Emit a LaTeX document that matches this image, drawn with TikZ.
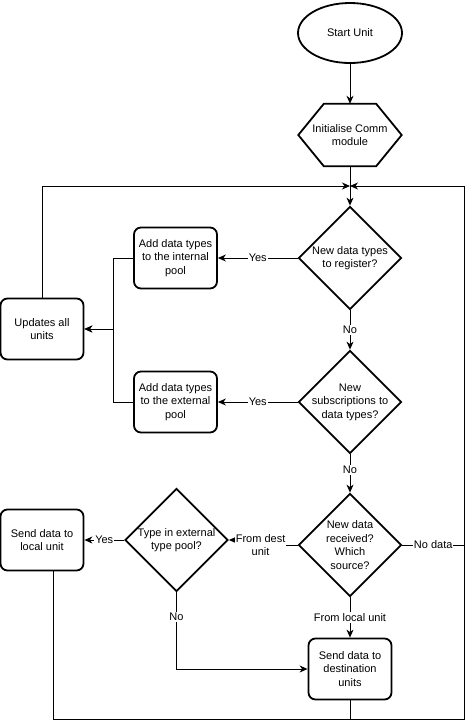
\documentclass[tikz,border=0pt]{standalone}
\usepackage{fontspec}
\setmainfont{Liberation Sans}
\usetikzlibrary{shapes.geometric,arrows.meta,calc}
\begin{document}
\begin{tikzpicture}[x=1pt,y=-1pt,
  font=\fontsize{11}{13.5}\selectfont,
  shp/.style={draw, line width=1.8pt},
  box/.style={shp, rounded corners=7pt, minimum width=83pt, minimum height=61pt, align=center, inner sep=1pt},
  diam/.style={shp, diamond, minimum width=103pt, minimum height=103pt, inner sep=0pt},
  txt/.style={align=center, inner sep=0pt},
  ln/.style={line width=1pt},
  arr/.style={ln, -{Stealth[length=8pt,width=7pt,inset=2.5pt]}},
  lbl/.style={fill=white, inner sep=1pt, align=center}]
\useasboundingbox (0,0) rectangle (474,724);

% shapes
\node[shp, ellipse, minimum width=104pt, minimum height=60pt] (start) at (350,33) {Start Unit};
\node[minimum width=103pt, minimum height=62pt, align=center, inner sep=0pt] (init) at (350,135) {Initialise Comm\\module};
\draw[shp] ([xshift=25.5pt]init.north west) -- ([xshift=-25.5pt]init.north east) -- (init.east) -- ([xshift=-25.5pt]init.south east) -- ([xshift=25.5pt]init.south west) -- (init.west) -- cycle;

\node[diam] (d1) at (350,258) {};
\node[txt] (d1t) at (d1) {New data types\\to register?};
\node[diam] (d2) at (350,402) {};
\node[txt] (d2t) at (d2) {New\\subscriptions to\\data types?};
\node[diam] (d3) at (350,545) {};
\node[txt] (d3t) at (d3) {New data\\received?\\Which\\source?};
\node[diam] (d4) at (176.5,540) {};
\node[txt] (d4t) at (d4) {Type in external\\type pool?};

\node[box] (b1) at (175.5,258) {Add data types\\to the internal\\pool};
\node[box] (b2) at (175.5,402) {Add data types\\to the external\\pool};
\node[box] (up) at (42,329) {Updates all\\units};
\node[box] (loc) at (42,540) {Send data to\\local unit};
\node[box] (dest) at (350,669) {Send data to\\destination\\units};

\coordinate (merge) at (350,186);
\coordinate (tr) at (464,186);
\coordinate (br) at (464,719);

% connectors
\draw[arr] (start) -- (init);
\draw[arr] (init.south) -- (d1.north);
\draw[arr] (up.north) |- (merge);
\draw[arr] ([xshift=11pt]loc.south) |- (br) -- (tr) -- (merge);
\draw[ln] (dest.south) -- (dest.south |- br);
\draw[ln] (d3.east) -- (d3.east -| br) node[lbl, midway] {No data};

\draw[arr] (d1.west) -- (b1.east) node[lbl, midway] {Yes};
\draw[arr] (d2.west) -- (b2.east) node[lbl, midway] {Yes};
\draw[arr] (b1.west) -- ++(-20,0) |- (up.east);
\draw[arr] (b2.west) -- ++(-20,0) |- (up.east);

\draw[arr] (d1.south) -- (d2.north) node[lbl, midway] {No};
\draw[arr] (d2.south) -- (d3.north) node[lbl, pos=0.4] {No};
\draw[arr] (d3.south) -- (dest.north) node[lbl, midway] {From local unit};
\draw[arr] (d3.west) -- ++(-37,0) node[lbl] {From dest\\unit} |- (d4.east);
\draw[arr] (d4.west) -- (loc.east) node[lbl, midway] {Yes};
\draw[arr] (d4.south) |- (dest.west) node[lbl, pos=0.16] {No};
\end{tikzpicture}
\end{document}
